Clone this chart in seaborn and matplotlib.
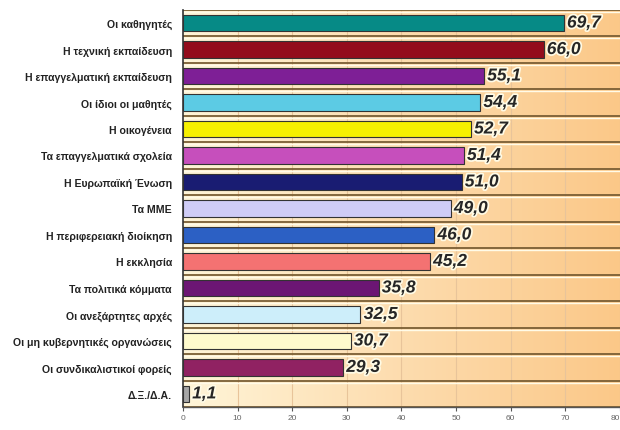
import numpy as np
import pandas as pd
import matplotlib
matplotlib.use("Agg")
import matplotlib.pyplot as plt
import matplotlib.patheffects as pe
from matplotlib.colors import LinearSegmentedColormap
import seaborn as sns

categories = [
    "Οι καθηγητές",
    "Η τεχνική εκπαίδευση",
    "Η επαγγελματική εκπαίδευση",
    "Οι ίδιοι οι μαθητές",
    "Η οικογένεια",
    "Τα επαγγελματικά σχολεία",
    "Η Ευρωπαϊκή Ένωση",
    "Τα ΜΜΕ",
    "Η περιφερειακή διοίκηση",
    "Η εκκλησία",
    "Τα πολιτικά κόμματα",
    "Οι ανεξάρτητες αρχές",
    "Οι μη κυβερνητικές οργανώσεις",
    "Οι συνδικαλιστικοί φορείς",
    "Δ.Ξ./Δ.Α.",
]
values = [69.7, 66.0, 55.1, 54.4, 52.7, 51.4, 51.0, 49.0, 46.0, 45.2,
          35.8, 32.5, 30.7, 29.3, 1.1]
value_labels = ["69,7", "66,0", "55,1", "54,4", "52,7", "51,4", "51,0", "49,0",
                "46,0", "45,2", "35,8", "32,5", "30,7", "29,3", "1,1"]
bar_colors = ["#068a86", "#930c1c", "#7e1f96", "#5ccbe4", "#f6f000",
              "#c64fbc", "#191c72", "#cfccf6", "#2c60c4", "#f47272",
              "#6c1674", "#cdeefa", "#fefacc", "#902262", "#a6a6a6"]
x_ticks = [0, 10, 20, 30, 40, 50, 60, 70, 80]

df = pd.DataFrame({"category": categories, "value": values})

sns.set_theme(style="white")
plt.rcParams["font.family"] = ["Liberation Sans", "DejaVu Sans"]

fig = plt.figure(figsize=(6.2, 4.31), dpi=100)
ax = fig.add_axes([0.295, 0.053, 0.705, 0.922])

# warm horizontal gradient behind the bars
grad = np.linspace(0, 1, 256).reshape(1, -1)
cmap = LinearSegmentedColormap.from_list("warm", ["#fff5d8", "#fddcae", "#fbc888"])
ax.imshow(grad, extent=[0, 80, len(categories) - 0.5, -0.5], aspect="auto",
          cmap=cmap, zorder=0)

sns.barplot(data=df, x="value", y="category", hue="category",
            palette=bar_colors, saturation=1, orient="h", width=0.62,
            legend=False, edgecolor="#333333", linewidth=0.8, ax=ax, zorder=3)

ax.set_xlim(0, 80)
ax.set_ylim(len(categories) - 0.5, -0.5)

# row separators and faint vertical grid
for k in range(len(categories) + 1):
    y = k - 0.5
    ax.axhline(y, color="#7a5e34", lw=1.3, zorder=2)
    ax.axhline(y + 0.07, color="#fffbe8", lw=1.0, zorder=2)
for xv in x_ticks[1:]:
    ax.axvline(xv, color="#e8c49a", lw=0.8, zorder=1)

for i, (v, lab) in enumerate(zip(values, value_labels)):
    ax.text(v + 0.6, i, lab, va="center", ha="left", fontsize=12.5,
            fontweight="bold", fontstyle="italic", color="#262626", zorder=5,
            path_effects=[pe.withStroke(linewidth=2.5, foreground="#fffbe6")])

ax.set_xlabel("")
ax.set_ylabel("")
ax.set_xticks(x_ticks)
ax.set_xticklabels([str(t) for t in x_ticks], fontsize=6, color="#666666")
ax.get_xticklabels()[-1].set_horizontalalignment("right")
ax.tick_params(axis="x", length=3, width=0.8, color="#555555", pad=2,
               bottom=True)
ax.tick_params(axis="y", length=0, pad=8)
for t in ax.get_yticklabels():
    t.set_fontsize(7.6)
    t.set_fontweight("bold")
    t.set_color("#222222")

for side in ["top", "right"]:
    ax.spines[side].set_visible(False)
ax.spines["left"].set_color("#333333")
ax.spines["left"].set_linewidth(1.2)
ax.spines["bottom"].set_color("#555555")
ax.spines["bottom"].set_linewidth(1.0)

fig.savefig("out.png", dpi=100, facecolor="white")
